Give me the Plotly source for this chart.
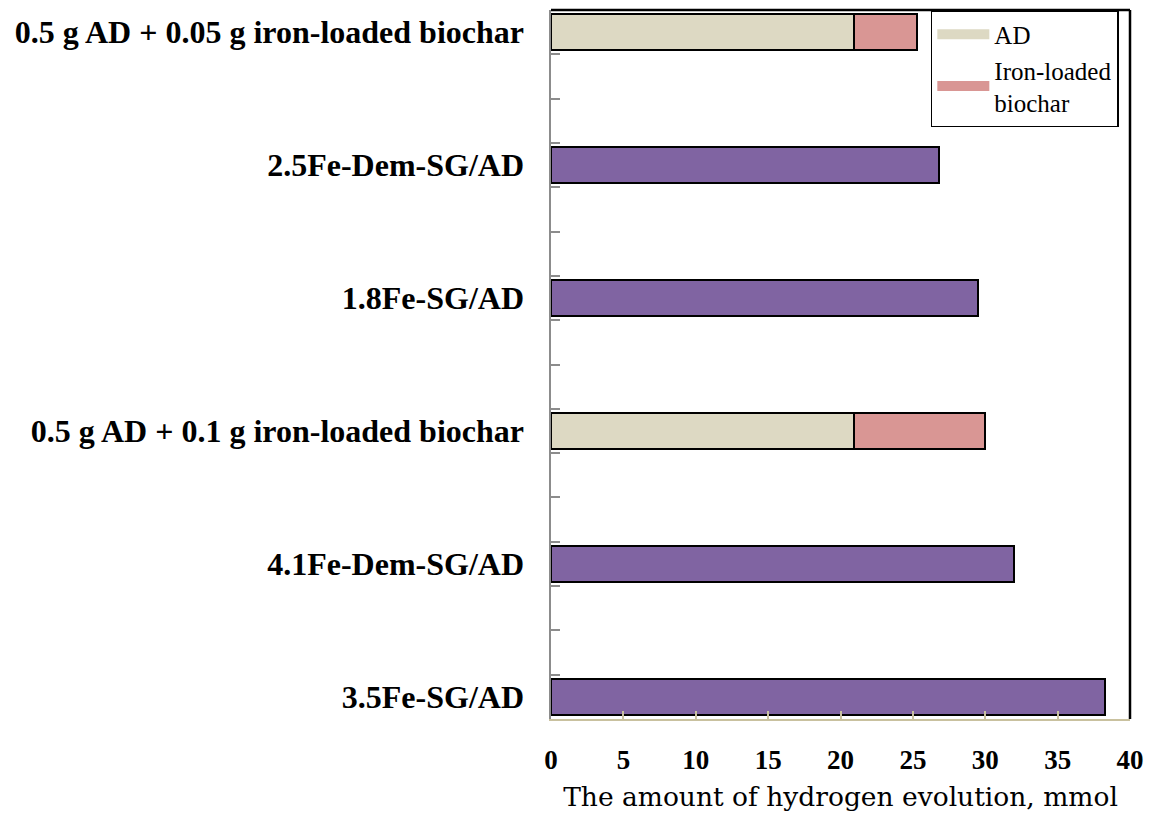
import plotly.graph_objects as go

# Categories, bottom to top
categories = [
    "3.5Fe-SG/AD",
    "4.1Fe-Dem-SG/AD",
    "0.5 g AD + 0.1 g iron-loaded biochar",
    "1.8Fe-SG/AD",
    "2.5Fe-Dem-SG/AD",
    "0.5 g AD + 0.05 g iron-loaded biochar",
]
single_values = [38.3, 32.0, None, 29.5, 26.8, None]
ad_values = [None, None, 20.9, None, None, 20.9]
iron_values = [None, None, 9.1, None, None, 4.4]
x_ticks = [0, 5, 10, 15, 20, 25, 30, 35, 40]

C_PURPLE = "#8064A2"
C_AD = "#DDD9C3"
C_IRON = "#D99694"
C_TAN = "#C9C19F"
C_GRAY = "#8C8C8C"

BAR_W = 0.27
line = dict(color="black", width=2)

fig = go.Figure()
fig.add_trace(go.Bar(y=categories, x=single_values, orientation="h", width=BAR_W,
                     marker=dict(color=C_PURPLE, line=line), showlegend=False))
fig.add_trace(go.Bar(y=categories, x=ad_values, orientation="h", width=BAR_W,
                     marker=dict(color=C_AD, line=line), showlegend=False))
fig.add_trace(go.Bar(y=categories, x=iron_values, orientation="h", width=BAR_W,
                     marker=dict(color=C_IRON, line=line), showlegend=False))
# legend entries (swatches without border)
fig.add_trace(go.Scatter(x=[None], y=[None], mode="lines", name="AD", legendgroup="a",
                         line=dict(color=C_AD, width=12)))
fig.add_trace(go.Scatter(x=[None], y=[None], mode="lines", name="Iron-loaded<br>biochar",
                         legendgroup="b", line=dict(color=C_IRON, width=12)))
# empty trace so the tick-mark axis is rendered
fig.add_trace(go.Scatter(x=[None], y=[None], yaxis="y2", mode="markers",
                         showlegend=False, hoverinfo="skip"))

yr = [-1/6, len(categories) - 1 + 1/6]

fig.update_layout(
    width=1156, height=821, autosize=False,
    margin=dict(l=551, r=26, t=10, b=102),
    paper_bgcolor="white", plot_bgcolor="white",
    barmode="stack",
    xaxis=dict(range=[0, 40], tickvals=x_ticks, ticks="inside", ticklen=8, tickwidth=2,
               tickcolor=C_TAN, showline=True, linecolor=C_TAN, linewidth=2,
               showgrid=False, zeroline=False, ticklabelstandoff=16,
               tickfont=dict(family="Liberation Serif", size=27, color="black", weight="bold"),
               title=dict(text="The amount of hydrogen evolution, mmol", standoff=13,
                          font=dict(family="DejaVu Serif", size=26.5, color="black"))),
    yaxis=dict(type="category", categoryorder="array", categoryarray=categories,
               range=yr, ticks="", showline=False, showgrid=False, zeroline=False,
               ticklabelstandoff=26,
               tickfont=dict(family="Liberation Serif", size=32, color="black", weight="bold")),
    yaxis2=dict(overlaying="y", anchor="x", side="left", range=yr, tickmode="linear",
                tick0=-1/6, dtick=1/3, ticks="inside", ticklen=9, tickwidth=2,
                tickcolor=C_GRAY, showline=True, linecolor=C_GRAY, linewidth=2,
                showgrid=False, zeroline=False, showticklabels=False),
    legend=dict(x=0.656, y=1.0, xanchor="left", yanchor="top",
                bgcolor="white", bordercolor="black", borderwidth=1.5,
                font=dict(family="Liberation Serif", size=25, color="black"),
                traceorder="normal", tracegroupgap=8, itemwidth=52),
    shapes=[
        dict(type="line", xref="paper", yref="paper", x0=0, x1=1, y0=1, y1=1,
             line=dict(color="black", width=2.5)),
        dict(type="line", xref="paper", yref="paper", x0=1, x1=1, y0=0, y1=1,
             line=dict(color="black", width=2.5)),
    ],
)

fig.write_html("out.html")
